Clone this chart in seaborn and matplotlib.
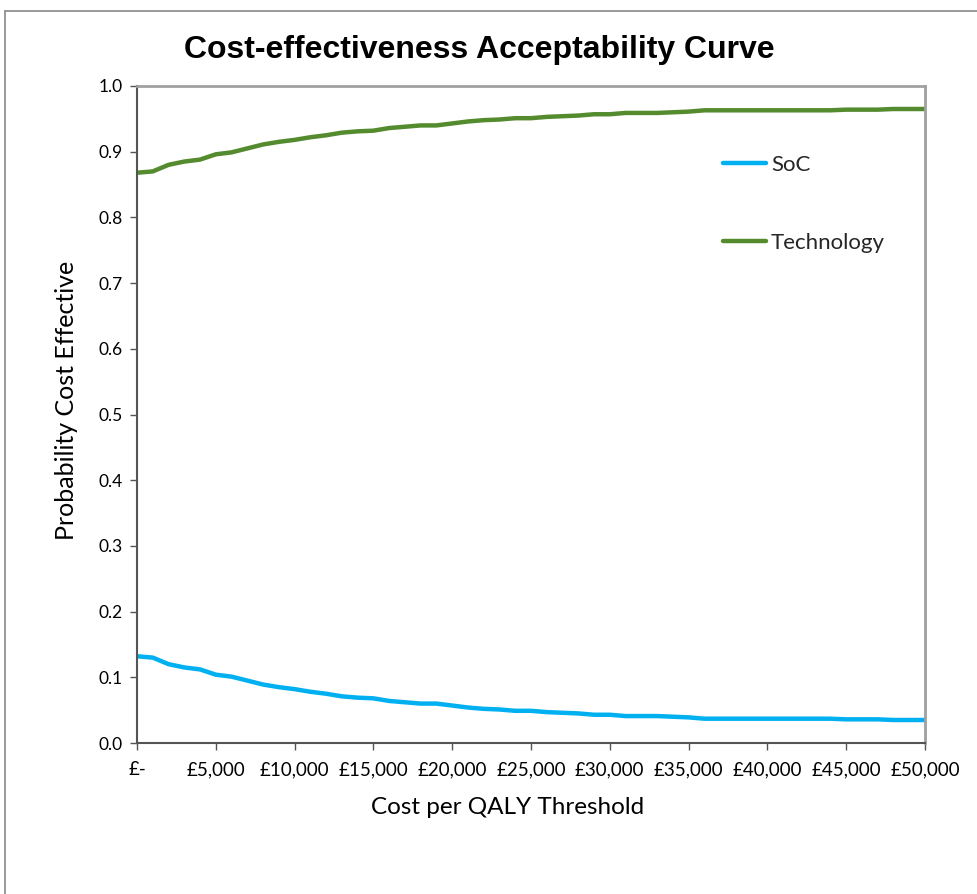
import matplotlib
matplotlib.use("Agg")
import matplotlib.pyplot as plt
import seaborn as sns
import pandas as pd
from matplotlib.lines import Line2D

thresholds = list(range(0, 51000, 1000))
soc = [0.132, 0.130, 0.120, 0.115, 0.112, 0.104, 0.101, 0.095, 0.089, 0.085,
       0.082, 0.078, 0.075, 0.071, 0.069, 0.068, 0.064, 0.062, 0.060, 0.060,
       0.057, 0.054, 0.052, 0.051, 0.049, 0.049, 0.047, 0.046, 0.045, 0.043,
       0.043, 0.041, 0.041, 0.041, 0.040, 0.039, 0.037, 0.037, 0.037, 0.037,
       0.037, 0.037, 0.037, 0.037, 0.037, 0.036, 0.036, 0.036, 0.035, 0.035,
       0.035]
technology = [0.868, 0.870, 0.880, 0.885, 0.888, 0.896, 0.899, 0.905, 0.911, 0.915,
              0.918, 0.922, 0.925, 0.929, 0.931, 0.932, 0.936, 0.938, 0.940, 0.940,
              0.943, 0.946, 0.948, 0.949, 0.951, 0.951, 0.953, 0.954, 0.955, 0.957,
              0.957, 0.959, 0.959, 0.959, 0.960, 0.961, 0.963, 0.963, 0.963, 0.963,
              0.963, 0.963, 0.963, 0.963, 0.963, 0.964, 0.964, 0.964, 0.965, 0.965,
              0.965]
series_names = ["SoC", "Technology"]
series_colors = ["#00B0F0", "#558B2F"]
x_ticks = list(range(0, 55000, 5000))
x_tick_labels = ["£-"] + [f"£{v:,}" for v in x_ticks[1:]]
y_ticks = [0.0, 0.1, 0.2, 0.3, 0.4, 0.5, 0.6, 0.7, 0.8, 0.9, 1.0]

df = pd.DataFrame({
    "Threshold": thresholds * 2,
    "Probability": soc + technology,
    "Series": [series_names[0]] * len(soc) + [series_names[1]] * len(technology),
})

sns.set_theme(style="white")
plt.rcParams['font.family'] = ['Lato', 'DejaVu Sans']

fig = plt.figure(figsize=(9.78, 8.94), dpi=100)
ax = fig.add_axes([137/978, 1 - 743/894, 788/978, 657/894])

sns.lineplot(data=df, x="Threshold", y="Probability", hue="Series",
             palette=dict(zip(series_names, series_colors)), linewidth=3.2,
             ax=ax, legend=False)

ax.set_xlim(0, 50000)
ax.set_ylim(0, 1.0)
ax.set_xticks(x_ticks)
ax.set_xticklabels(x_tick_labels)
ax.set_yticks(y_ticks)
ax.set_yticklabels([f"{v:.1f}" for v in y_ticks])
ax.tick_params(axis="both", which="major", direction="out", length=5, width=1,
               color="#555555", pad=5, labelcolor="black")
ax.tick_params(axis="x", pad=8, labelsize=13.5)
ax.tick_params(axis="y", labelsize=12.5)
ax.tick_params(bottom=True, left=True)

for side in ["left", "bottom"]:
    ax.spines[side].set_color("#555555")
    ax.spines[side].set_linewidth(1.5)
for side in ["top", "right"]:
    ax.spines[side].set_color("#A0A0A0")
    ax.spines[side].set_linewidth(2)

ax.set_xlabel("")
ax.set_ylabel("")
fig.text(508/978, 1 - 807/894, "Cost per QALY Threshold", ha="center", va="center",
         fontsize=17.5, color="black")
fig.text(67/978, 1 - 400/894, "Probability Cost Effective", ha="center", va="center",
         rotation=90, fontsize=18, color="black")
fig.text(479/978, 1 - 50/894, "Cost-effectiveness Acceptability Curve", ha="center",
         va="center", fontsize=23, fontweight="bold", family="Liberation Sans",
         color="black")

handles = [Line2D([0], [0], color=c, linewidth=3.2) for c in series_colors]
leg = ax.legend(handles, series_names, loc="upper left",
                bbox_to_anchor=(712/978, 1 - 144/894), bbox_transform=fig.transFigure,
                frameon=False, fontsize=16, handlelength=1.95, handletextpad=0.2,
                labelspacing=2.6, borderpad=0)

# outer chart-area border (top and left visible)
fig.add_artist(Line2D([5/978, 5/978], [0, 1 - 11/894], transform=fig.transFigure,
                      color="#888888", linewidth=1.2))
fig.add_artist(Line2D([5/978, 1], [1 - 11/894, 1 - 11/894], transform=fig.transFigure,
                      color="#888888", linewidth=1.2))

fig.savefig("out.png", dpi=100)
